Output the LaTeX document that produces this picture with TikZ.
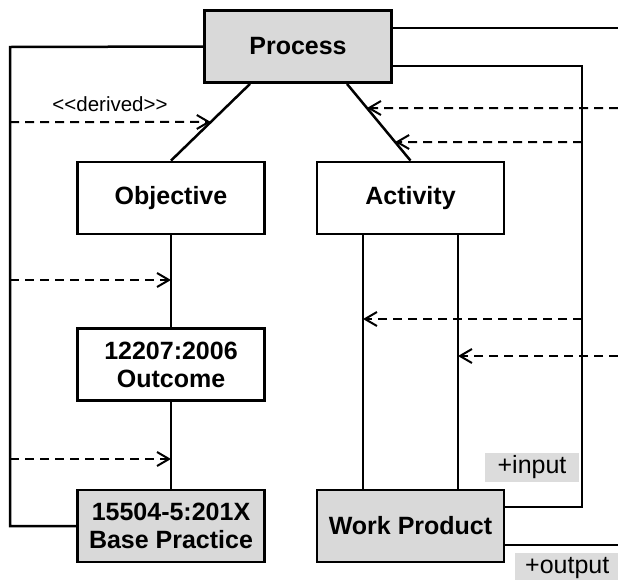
\documentclass[tikz,border=0pt]{standalone}
\usepackage{fontspec}
\setmainfont{Liberation Sans}
\usetikzlibrary{arrows.meta,calc}
\definecolor{boxgray}{HTML}{D9D9D9}
\definecolor{labelgray}{HTML}{DCDCDC}
\begin{document}
\begin{tikzpicture}[x=1pt,y=1pt,
 box/.style={draw,line width=2.8pt,minimum width=187pt,minimum height=72pt,inner sep=0pt,align=center,font=\fontsize{25}{28}\selectfont\bfseries},
 gbox/.style={box,fill=boxgray},
 conn/.style={line width=2.5pt},
 innerline/.style={line width=2pt},
 dep/.style={line width=2pt,dash pattern=on 9pt off 6pt,-{Straight Barb[length=12pt,width=14pt,line width=2pt]}},
 lbl/.style={fill=labelgray,inner sep=0pt,font=\fontsize{25}{28}\selectfont},
]
\clip (0,0) rectangle (618,-579);
\fill[white] (0,0) rectangle (618,-579);

% boxes
\node[gbox] (proc) at (298,-46.5) {Process};
\node[box] (obj) at (171,-198) {Objective};
\node[box] (act) at (410.5,-198) {Activity};
\node[box] (out) at (171,-364.5) {12207:2006\\Outcome};
\node[gbox] (bp) at (171,-526) {15504-5:201X\\Base Practice};
\node[gbox] (wp) at (410.5,-526) {Work Product};

% labels
\node[lbl,minimum width=94pt,minimum height=29pt] (inlbl) at (532,-467.5) {+input};
\node[lbl,minimum width=104pt,minimum height=30pt,anchor=north west] (outlbl) at (515,-553) {+output};
\node[font=\fontsize{20.5}{24}\selectfont,inner sep=0pt] (der) at (110,-104) {<\kern0pt<derived>\kern0pt>};

% left frame
\coordinate (lt) at (10,-47);
\coordinate (lb) at (10,-526);
\draw[conn] (proc.west) -- (lt) -- (lb) -- (bp.west);

% tree
\coordinate (pL) at ($(proc.south)+(-48,0)$);
\coordinate (pR) at ($(proc.south)+(49,0)$);
\draw[conn] (pL) -- (obj.north);
\draw[conn] (pR) -- (act.north);
\draw[conn] (obj) -- (out);
\draw[conn] (out) -- (bp);

% activity - work product
\coordinate (a1) at ($(act.south)+(-47.5,0)$);
\coordinate (a2) at ($(act.south)+(47.5,0)$);
\coordinate (w1) at ($(wp.north)+(-47.5,0)$);
\coordinate (w2) at ($(wp.north)+(47.5,0)$);
\draw[innerline] (a1) -- (w1);
\draw[innerline] (a2) -- (w2);

% right side
\coordinate (pe1) at ($(proc.east)+(0,18.5)$);
\coordinate (pe2) at ($(proc.east)+(0,-19.5)$);
\coordinate (r1) at (618,-28);
\draw[conn] (pe1) -- (r1);
\coordinate (rt) at (582,-66);
\coordinate (rb) at (582,-507);
\coordinate (we1) at ($(wp.east)+(0,19)$);
\coordinate (we2) at ($(wp.east)+(0,-19)$);
\draw[conn] (pe2) -- (rt) -- (rb) -- (we1);
\coordinate (r2) at (618,-545);
\draw[conn] (we2) -- (r2);

% dashed arrows left
\coordinate (d1s) at (10,-122);
\coordinate (d1e) at (300,-122);
\draw[dep] (d1s) -- (intersection of pL--obj.north and d1s--d1e);
\coordinate (d2s) at (10,-280);
\draw[dep] (d2s) -- (d2s -| obj.south);
\coordinate (d3s) at (10,-459);
\draw[dep] (d3s) -- (d3s -| obj.south);

% dashed arrows right
\coordinate (d4s) at (618,-108);
\coordinate (d4e) at (300,-108);
\draw[dep] (d4s) -- (intersection of pR--act.north and d4s--d4e);
\coordinate (d5s) at (582,-142);
\coordinate (d5e) at (300,-142);
\draw[dep] (d5s) -- (intersection of pR--act.north and d5s--d5e);
\coordinate (d6s) at (582,-319);
\draw[dep] (d6s) -- (d6s -| a1);
\coordinate (d7s) at (618,-356);
\draw[dep] (d7s) -- (d7s -| a2);
\end{tikzpicture}
\end{document}
